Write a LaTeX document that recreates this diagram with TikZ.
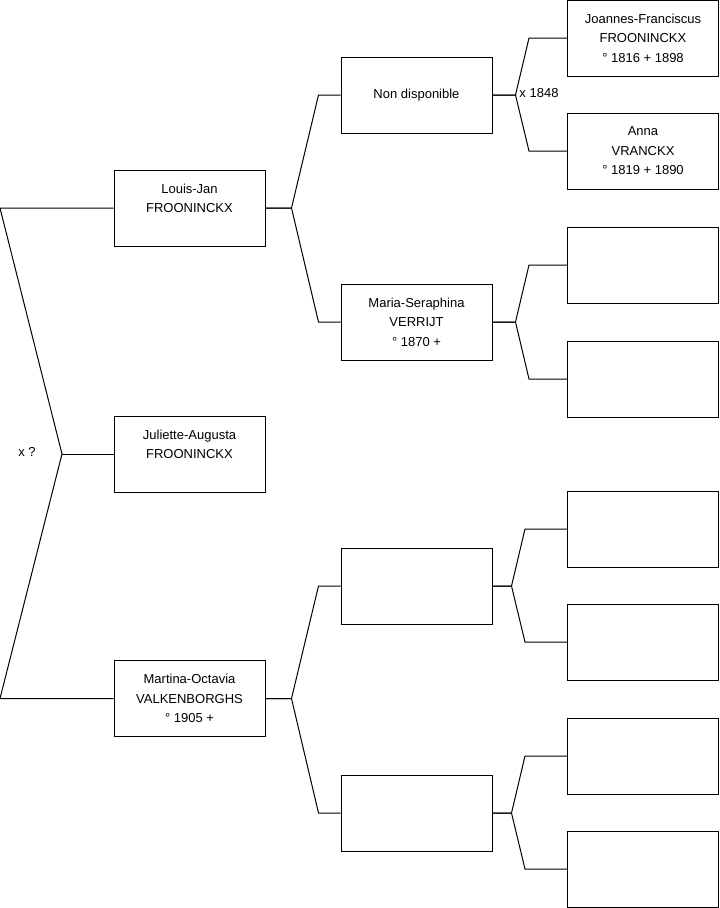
\documentclass[tikz,border=0pt]{standalone}
\usepackage{fontspec}
\setmainfont{Liberation Sans}
\usepackage{tikz}
\usetikzlibrary{calc}

\begin{document}
\begin{tikzpicture}[x=0.75pt,y=-0.75pt,line width=0.75pt,
  font=\fontsize{9.75}{14.6}\selectfont,
  person/.style={draw,minimum width=113.25pt,minimum height=57pt,inner sep=0pt,align=center}]
\useasboundingbox (0,0) rectangle (719,908);
% children
\node[person] (lj) at (189.5,208){Louis-Jan\\FROONINCKX\\\phantom{° 1905 +}};
\node[person] (ja) at (189.5,454){Juliette-Augusta\\FROONINCKX\\\phantom{° 1905 +}};
\node[person] (mo) at (189.5,698.5){Martina-Octavia\\VALKENBORGHS\\° 1905 +};
% parents
\node[person] (nd) at (416.5,95){Non disponible};
\node[person] (ms) at (416.5,322){Maria-Seraphina\\VERRIJT\\° 1870 +};
\node[person] (e3) at (416.5,586){};
\node[person] (e4) at (416.5,813){};
% grandparents
\node[person] (jf) at (643,38){Joannes-Franciscus\\FROONINCKX\\° 1816 + 1898};
\node[person] (av) at (643,151){Anna\\VRANCKX\\° 1819 + 1890};
\node[person] (g3) at (643,265){};
\node[person] (g4) at (643,379){};
\node[person] (g5) at (643,529){};
\node[person] (g6) at (643,642){};
\node[person] (g7) at (643,756){};
\node[person] (g8) at (643,869){};
% siblings
\coordinate (ta) at (0,208);
\coordinate (tb) at (0,698.5);
\coordinate (jx) at (62,454);
\draw (lj.west) -- (ta) -- (jx) -- (tb) -- (mo.west);
\draw (jx) -- (ja.west);
\node (xq) at (27,452){x ?};
% parents of Louis-Jan and Martina-Octavia
\draw (lj.east) -- ($(lj.east)+(26,0)$) -- ($(nd.west)+(-22,0)$) -- (nd.west);
\draw (lj.east) -- ($(lj.east)+(26,0)$) -- ($(ms.west)+(-22,0)$) -- (ms.west);
\draw (mo.east) -- ($(mo.east)+(26,0)$) -- ($(e3.west)+(-22,0)$) -- (e3.west);
\draw (mo.east) -- ($(mo.east)+(26,0)$) -- ($(e4.west)+(-22,0)$) -- (e4.west);
% grandparents
\draw (nd.east) -- ($(nd.east)+(23,0)$) -- ($(jf.west)+(-38,0)$) -- (jf.west);
\draw (nd.east) -- ($(nd.east)+(23,0)$) -- ($(av.west)+(-38,0)$) -- (av.west);
\node (xm) at (539,93){x 1848};
\draw (ms.east) -- ($(ms.east)+(23,0)$) -- ($(g3.west)+(-38,0)$) -- (g3.west);
\draw (ms.east) -- ($(ms.east)+(23,0)$) -- ($(g4.west)+(-38,0)$) -- (g4.west);
\draw (e3.east) -- ($(e3.east)+(19,0)$) -- ($(g5.west)+(-42,0)$) -- (g5.west);
\draw (e3.east) -- ($(e3.east)+(19,0)$) -- ($(g6.west)+(-42,0)$) -- (g6.west);
\draw (e4.east) -- ($(e4.east)+(19,0)$) -- ($(g7.west)+(-42,0)$) -- (g7.west);
\draw (e4.east) -- ($(e4.east)+(19,0)$) -- ($(g8.west)+(-42,0)$) -- (g8.west);
\end{tikzpicture}
\end{document}
